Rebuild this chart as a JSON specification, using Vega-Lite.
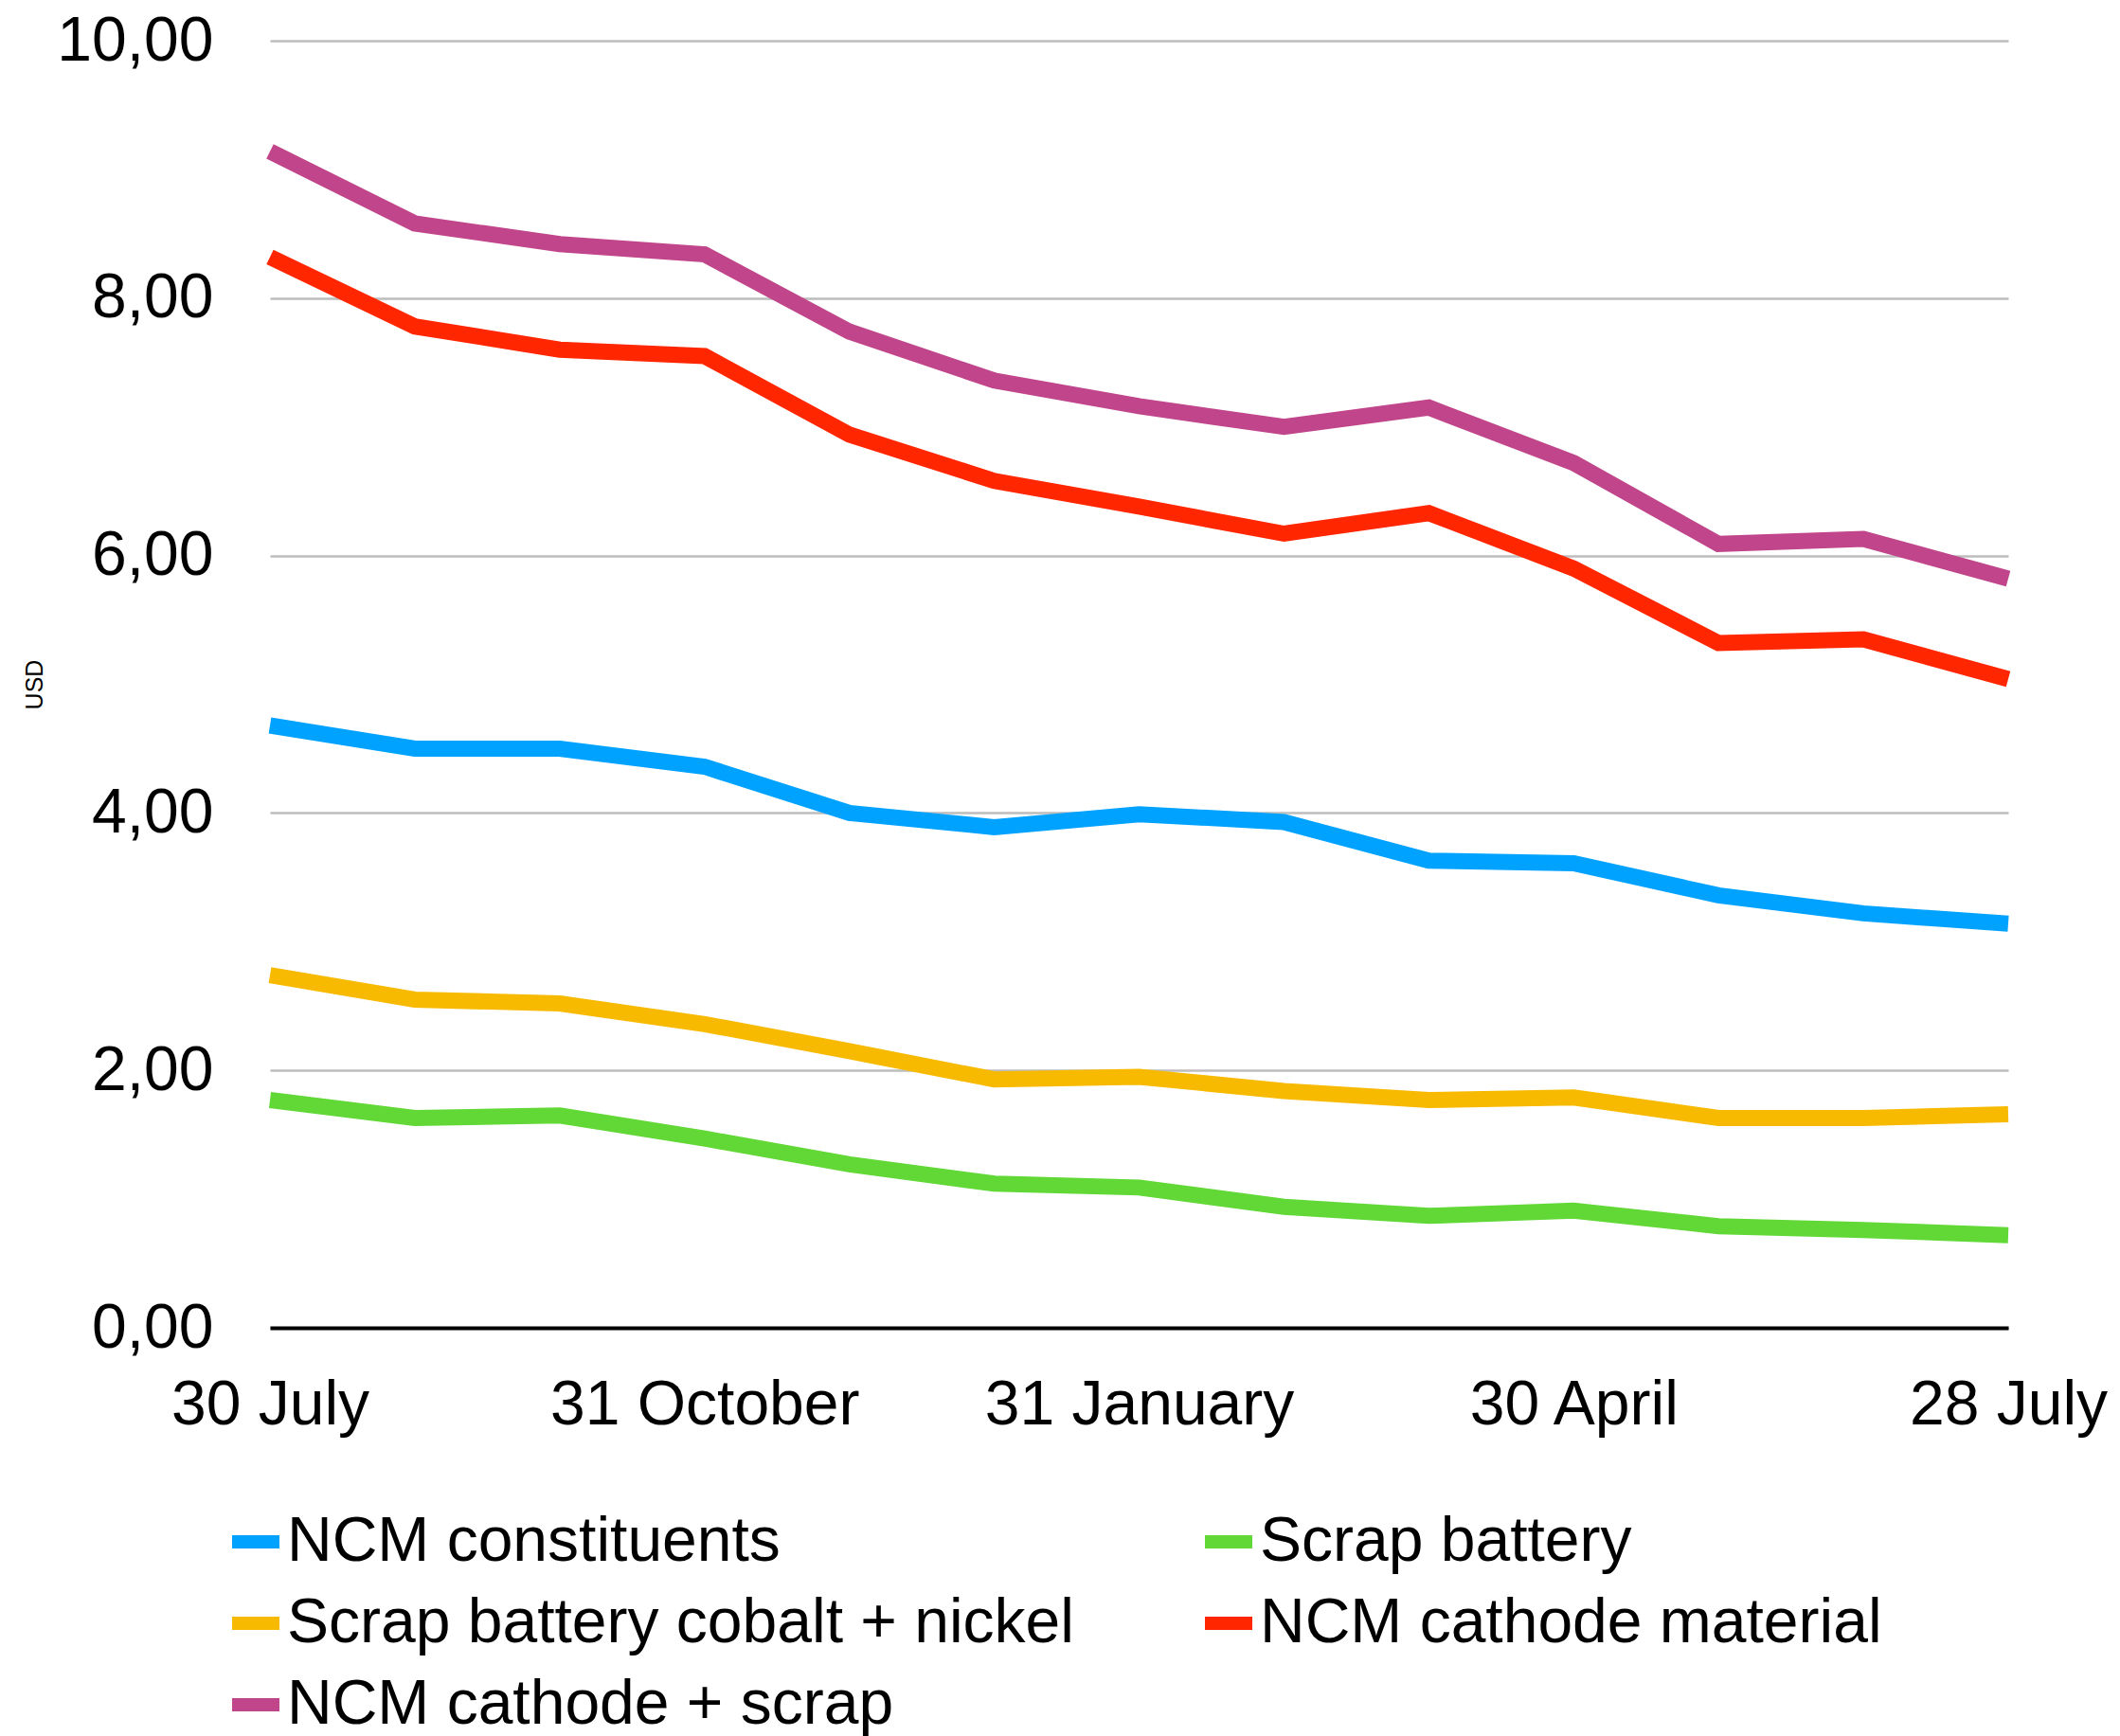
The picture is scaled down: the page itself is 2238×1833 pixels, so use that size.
{
  "$schema": "https://vega.github.io/schema/vega-lite/v6.json",
  "width": 1835,
  "height": 1359,
  "autosize": {"type": "none"},
  "padding": {"left": 285, "top": 43, "right": 118, "bottom": 431},
  "background": "white",
  "config": {"view": {"stroke": null}, "font": "Liberation Sans"},
  "data": {
    "values": [
      {"date": "30 July", "series": "NCM constituents", "value": 4.68},
      {"date": "31 August", "series": "NCM constituents", "value": 4.50},
      {"date": "30 September", "series": "NCM constituents", "value": 4.50},
      {"date": "31 October", "series": "NCM constituents", "value": 4.36},
      {"date": "30 November", "series": "NCM constituents", "value": 4.00},
      {"date": "31 December", "series": "NCM constituents", "value": 3.89},
      {"date": "31 January", "series": "NCM constituents", "value": 3.99},
      {"date": "28 February", "series": "NCM constituents", "value": 3.93},
      {"date": "31 March", "series": "NCM constituents", "value": 3.63},
      {"date": "30 April", "series": "NCM constituents", "value": 3.61},
      {"date": "31 May", "series": "NCM constituents", "value": 3.36},
      {"date": "30 June", "series": "NCM constituents", "value": 3.22},
      {"date": "28 July", "series": "NCM constituents", "value": 3.14},

      {"date": "30 July", "series": "Scrap battery", "value": 1.77},
      {"date": "31 August", "series": "Scrap battery", "value": 1.63},
      {"date": "30 September", "series": "Scrap battery", "value": 1.65},
      {"date": "31 October", "series": "Scrap battery", "value": 1.47},
      {"date": "30 November", "series": "Scrap battery", "value": 1.27},
      {"date": "31 December", "series": "Scrap battery", "value": 1.12},
      {"date": "31 January", "series": "Scrap battery", "value": 1.09},
      {"date": "28 February", "series": "Scrap battery", "value": 0.94},
      {"date": "31 March", "series": "Scrap battery", "value": 0.87},
      {"date": "30 April", "series": "Scrap battery", "value": 0.91},
      {"date": "31 May", "series": "Scrap battery", "value": 0.79},
      {"date": "30 June", "series": "Scrap battery", "value": 0.76},
      {"date": "28 July", "series": "Scrap battery", "value": 0.72},

      {"date": "30 July", "series": "Scrap battery cobalt + nickel", "value": 2.74},
      {"date": "31 August", "series": "Scrap battery cobalt + nickel", "value": 2.55},
      {"date": "30 September", "series": "Scrap battery cobalt + nickel", "value": 2.52},
      {"date": "31 October", "series": "Scrap battery cobalt + nickel", "value": 2.36},
      {"date": "30 November", "series": "Scrap battery cobalt + nickel", "value": 2.15},
      {"date": "31 December", "series": "Scrap battery cobalt + nickel", "value": 1.93},
      {"date": "31 January", "series": "Scrap battery cobalt + nickel", "value": 1.95},
      {"date": "28 February", "series": "Scrap battery cobalt + nickel", "value": 1.84},
      {"date": "31 March", "series": "Scrap battery cobalt + nickel", "value": 1.77},
      {"date": "30 April", "series": "Scrap battery cobalt + nickel", "value": 1.79},
      {"date": "31 May", "series": "Scrap battery cobalt + nickel", "value": 1.63},
      {"date": "30 June", "series": "Scrap battery cobalt + nickel", "value": 1.63},
      {"date": "28 July", "series": "Scrap battery cobalt + nickel", "value": 1.66},

      {"date": "30 July", "series": "NCM cathode material", "value": 8.32},
      {"date": "31 August", "series": "NCM cathode material", "value": 7.78},
      {"date": "30 September", "series": "NCM cathode material", "value": 7.60},
      {"date": "31 October", "series": "NCM cathode material", "value": 7.55},
      {"date": "30 November", "series": "NCM cathode material", "value": 6.94},
      {"date": "31 December", "series": "NCM cathode material", "value": 6.58},
      {"date": "31 January", "series": "NCM cathode material", "value": 6.38},
      {"date": "28 February", "series": "NCM cathode material", "value": 6.17},
      {"date": "31 March", "series": "NCM cathode material", "value": 6.33},
      {"date": "30 April", "series": "NCM cathode material", "value": 5.90},
      {"date": "31 May", "series": "NCM cathode material", "value": 5.32},
      {"date": "30 June", "series": "NCM cathode material", "value": 5.35},
      {"date": "28 July", "series": "NCM cathode material", "value": 5.04},

      {"date": "30 July", "series": "NCM cathode + scrap", "value": 9.14},
      {"date": "31 August", "series": "NCM cathode + scrap", "value": 8.58},
      {"date": "30 September", "series": "NCM cathode + scrap", "value": 8.42},
      {"date": "31 October", "series": "NCM cathode + scrap", "value": 8.34},
      {"date": "30 November", "series": "NCM cathode + scrap", "value": 7.74},
      {"date": "31 December", "series": "NCM cathode + scrap", "value": 7.36},
      {"date": "31 January", "series": "NCM cathode + scrap", "value": 7.16},
      {"date": "28 February", "series": "NCM cathode + scrap", "value": 7.00},
      {"date": "31 March", "series": "NCM cathode + scrap", "value": 7.15},
      {"date": "30 April", "series": "NCM cathode + scrap", "value": 6.72},
      {"date": "31 May", "series": "NCM cathode + scrap", "value": 6.09},
      {"date": "30 June", "series": "NCM cathode + scrap", "value": 6.13},
      {"date": "28 July", "series": "NCM cathode + scrap", "value": 5.82}
    ]
  },
  "mark": {"type": "line", "strokeWidth": 17, "strokeJoin": "miter", "strokeCap": "butt"},
  "encoding": {
    "x": {
      "field": "date",
      "type": "ordinal",
      "scale": {
        "type": "point",
        "padding": 0,
        "domain": ["30 July", "31 August", "30 September", "31 October", "30 November", "31 December", "31 January", "28 February", "31 March", "30 April", "31 May", "30 June", "28 July"]
      },
      "axis": {
        "values": ["30 July", "31 October", "31 January", "30 April", "28 July"],
        "title": null,
        "labelAngle": 0,
        "labelFontSize": 66,
        "labelColor": "black",
        "labelPadding": 49,
        "labelLimit": 1000,
        "labelFlush": false,
        "labelBound": false,
        "labelOverlap": false,
        "ticks": false,
        "grid": false,
        "domainColor": "black",
        "domainWidth": 4,
        "zindex": 1
      }
    },
    "y": {
      "field": "value",
      "type": "quantitative",
      "scale": {"domain": [0, 10], "nice": false, "zero": true},
      "axis": {
        "values": [0, 2, 4, 6, 8, 10],
        "labelExpr": "replace(format(datum.value, '.2f'), '.', ',')",
        "labelFontSize": 66,
        "labelColor": "black",
        "labelPadding": 60,
        "labelLimit": 1000,
        "ticks": false,
        "domain": false,
        "gridColor": "#BDBDBD",
        "gridWidth": 2.5,
        "title": "USD",
        "titleFontSize": 25,
        "titleFontWeight": "normal",
        "titleColor": "black",
        "titleX": -249,
        "titleY": 679.5,
        "titleBaseline": "middle",
        "titleAlign": "center"
      }
    },
    "color": {
      "field": "series",
      "type": "nominal",
      "scale": {
        "domain": ["NCM constituents", "Scrap battery", "Scrap battery cobalt + nickel", "NCM cathode material", "NCM cathode + scrap"],
        "range": ["#00A2FF", "#61D836", "#F8BA00", "#FF2600", "#C1458A"]
      },
      "legend": {
        "orient": "none",
        "legendX": -48,
        "legendY": 1552,
        "direction": "horizontal",
        "columns": 2,
        "columnPadding": 110,
        "rowPadding": 20,
        "symbolType": "stroke",
        "symbolSize": 2500,
        "symbolStrokeWidth": 14,
        "labelFontSize": 66,
        "labelColor": "black",
        "labelOffset": 0,
        "labelLimit": 2000,
        "title": null,
        "padding": 0
      }
    }
  }
}
